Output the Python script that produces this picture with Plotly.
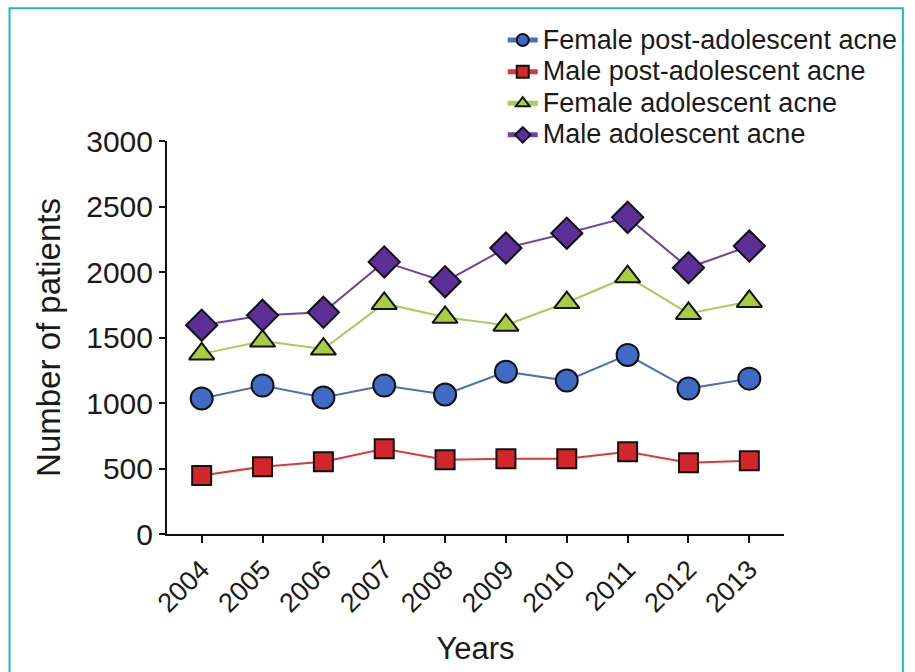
import plotly.graph_objects as go

years = [2004, 2005, 2006, 2007, 2008, 2009, 2010, 2011, 2012, 2013]
female_post = [1035, 1133, 1042, 1133, 1065, 1239, 1171, 1367, 1110, 1186]
male_post = [446, 514, 551, 650, 566, 574, 574, 627, 544, 559]
female_adol = [1375, 1473, 1412, 1760, 1654, 1594, 1767, 1964, 1684, 1775]
male_adol = [1594, 1669, 1692, 2077, 1926, 2183, 2296, 2417, 2032, 2198]
y_ticks = [0, 500, 1000, 1500, 2000, 2500, 3000]

FONT = "Liberation Sans, Arial, Helvetica, sans-serif"
TXT = "#1a1a1a"

series = [
    ("Female post-adolescent acne", female_post, "circle", 22, "#3f6bc5", "#4a6fc2"),
    ("Male post-adolescent acne", male_post, "square", 19, "#d3262b", "#d9393a"),
    ("Female adolescent acne", female_adol, "triangle-up", 22, "#a9cd3e", "#a8cc58"),
    ("Male adolescent acne", male_adol, "diamond", 24, "#5b2e98", "#7042a8"),
]

fig = go.Figure()
for name, vals, sym, size, fill, line in series:
    fig.add_trace(go.Scatter(
        x=years, y=vals,
        name='<span style="font-size:27px">' + name + '</span>',
        mode="lines+markers",
        line=dict(color=line, width=2),
        marker=dict(symbol=sym, size=size, color=fill,
                    line=dict(color="#111111", width=2)),
    ))

W, H = 915, 672
L, R, T, B = 167, 125, 141, 134
pw, ph = W - L - R, H - T - B

def px2paper_x(px):
    return (px - L) / pw

def px2paper_y(py):
    return 1 + (T - py) / ph

fig.update_layout(
    width=W, height=H,
    margin=dict(l=L, r=R, t=T, b=B, pad=0),
    paper_bgcolor="white", plot_bgcolor="white",
    font=dict(family=FONT, color=TXT),
    showlegend=True,
    legend=dict(
        x=px2paper_x(506), y=px2paper_y(18), xanchor="left", yanchor="top",
        font=dict(size=22, family=FONT, color=TXT),
        itemsizing="constant", bgcolor="rgba(0,0,0,0)",
        tracegroupgap=0,
    ),
    xaxis=dict(
        range=[2003.43, 2013.57], tickmode="array", tickvals=years,
        ticktext=[str(y) for y in years], tickangle=-45,
        showgrid=False, zeroline=False,
        showline=True, linecolor="#111111", linewidth=2,
        ticks="outside", ticklen=7, tickwidth=2, tickcolor="#111111",
        tickfont=dict(size=27, family=FONT, color=TXT),
        title=dict(text="Years", font=dict(size=31, family=FONT, color=TXT), standoff=20),
    ),
    yaxis=dict(
        range=[0, 3000], tickmode="array", tickvals=y_ticks,
        showgrid=False, zeroline=False,
        showline=True, linecolor="#111111", linewidth=2,
        ticks="outside", ticklen=6, tickwidth=2, tickcolor="#111111",
        tickfont=dict(size=30, family=FONT, color=TXT),
        title=dict(text="Number of patients", font=dict(size=33, family=FONT, color=TXT), standoff=16),
    ),
    shapes=[dict(
        type="rect", xref="paper", yref="paper",
        x0=px2paper_x(8), x1=px2paper_x(910),
        y0=px2paper_y(690), y1=px2paper_y(7),
        line=dict(color="#1db3d4", width=2), fillcolor="rgba(0,0,0,0)",
        layer="below",
    )],
)

fig.write_html(
    "out.html",
    config={"displayModeBar": False},
    post_script="document.body.style.margin='0';document.body.style.overflow='hidden';",
)
